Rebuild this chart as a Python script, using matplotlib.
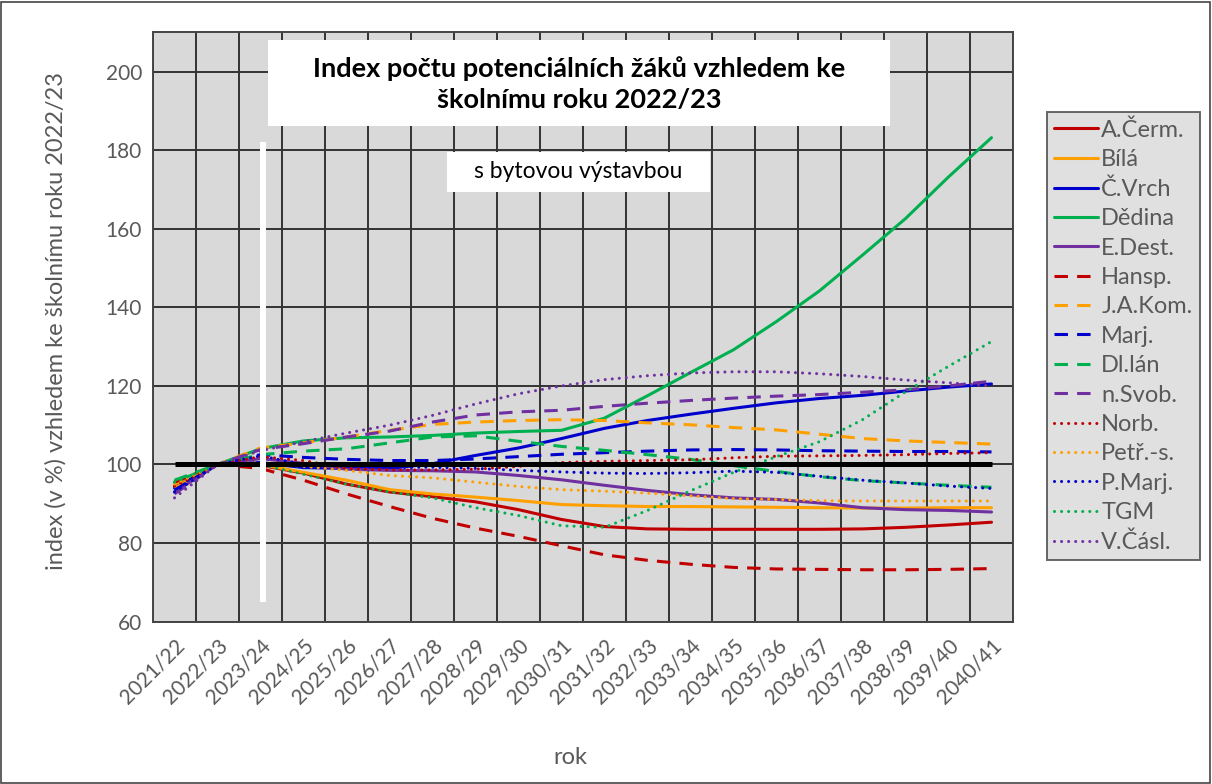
import matplotlib
matplotlib.use('Agg')
import matplotlib.pyplot as plt
from matplotlib.patches import Rectangle

plt.rcParams['font.family'] = ['Lato', 'DejaVu Sans']

years = ['2021/22', '2022/23', '2023/24', '2024/25', '2025/26', '2026/27', '2027/28',
         '2028/29', '2029/30', '2030/31', '2031/32', '2032/33', '2033/34', '2034/35',
         '2035/36', '2036/37', '2037/38', '2038/39', '2039/40', '2040/41']

A_Cerm = [94.5, 100, 99.8, 97.8, 95.0, 93.0, 91.8, 90.5, 88.5, 86.0, 84.2, 83.6, 83.5, 83.5, 83.5, 83.5, 83.6, 84.0, 84.6, 85.3]
Bila = [95.0, 100, 100.0, 98.0, 96.0, 93.6, 92.5, 91.7, 90.8, 89.8, 89.5, 89.3, 89.3, 89.2, 89.1, 89.0, 88.9, 88.9, 89.0, 89.0]
C_Vrch = [94.0, 100, 100.5, 99.2, 99.0, 99.0, 100.2, 102.3, 104.2, 106.6, 109.2, 111.2, 112.8, 114.3, 115.7, 116.8, 117.6, 118.7, 119.7, 120.5]
Dedina = [95.5, 100, 104.0, 106.0, 106.8, 107.0, 107.4, 108.0, 108.4, 108.7, 111.8, 117.5, 123.4, 129.2, 136.4, 144.2, 153.3, 162.6, 173.2, 183.2]
E_Dest = [93.0, 100, 101.5, 100.3, 98.8, 98.5, 98.4, 98.1, 97.2, 96.1, 94.7, 93.4, 92.3, 91.5, 91.1, 90.2, 89.0, 88.5, 88.3, 87.9]
Hansp = [95.5, 100, 99.0, 96.0, 92.5, 89.3, 86.3, 83.8, 81.7, 79.3, 77.0, 75.6, 74.6, 73.8, 73.4, 73.3, 73.2, 73.2, 73.3, 73.5]
J_A_Kom = [94.0, 100, 104.2, 105.5, 107.0, 108.7, 110.2, 110.8, 111.2, 111.4, 111.2, 110.6, 110.1, 109.4, 108.8, 107.7, 106.6, 106.0, 105.6, 105.2]
Marj = [93.5, 100, 102.5, 101.8, 101.3, 101.0, 101.0, 101.4, 102.0, 102.6, 103.0, 103.4, 103.7, 103.8, 103.7, 103.5, 103.4, 103.3, 103.3, 103.2]
Dl_lan = [96.0, 100, 102.5, 103.4, 104.0, 105.5, 107.0, 107.3, 105.9, 104.6, 103.6, 102.5, 101.3, 99.7, 98.2, 96.9, 95.9, 95.3, 94.7, 94.2]
n_Svob = [92.5, 100, 103.8, 105.3, 107.0, 108.5, 110.8, 112.6, 113.4, 113.8, 114.8, 115.6, 116.3, 116.9, 117.4, 117.8, 118.4, 119.0, 120.0, 121.2]
Norb = [94.5, 100, 102.0, 101.0, 99.0, 98.6, 98.6, 98.8, 99.5, 100.5, 100.8, 101.0, 101.2, 101.7, 102.1, 102.2, 102.3, 102.5, 102.8, 103.0]
Petr_s = [95.0, 100, 100.5, 99.5, 98.5, 97.2, 96.6, 95.5, 94.4, 93.6, 93.2, 92.7, 92.0, 91.3, 91.1, 90.8, 90.7, 90.7, 90.7, 90.7]
P_Marj = [93.0, 100, 102.2, 100.0, 99.5, 99.2, 99.3, 99.0, 98.5, 98.1, 97.8, 97.7, 97.9, 98.3, 98.0, 97.0, 96.0, 95.3, 94.5, 93.9]
TGM = [95.5, 100, 100.0, 97.5, 95.0, 93.0, 91.5, 89.0, 87.0, 84.4, 84.0, 88.3, 93.3, 98.0, 102.0, 105.8, 111.4, 118.5, 125.0, 131.3]
V_Casl = [91.5, 100, 103.5, 105.8, 108.0, 110.0, 112.5, 115.4, 118.0, 120.0, 121.6, 122.6, 123.3, 123.6, 123.6, 123.1, 122.4, 121.5, 120.8, 120.0]
base = [100] * 20

labels = ['A.Čerm.', 'Bílá', 'Č.Vrch', 'Dědina', 'E.Dest.', 'Hansp.', 'J.A.Kom.', 'Marj.',
          'Dl.lán', 'n.Svob.', 'Norb.', 'Petř.-s.', 'P.Marj.', 'TGM', 'V.Čásl.']
series = [A_Cerm, Bila, C_Vrch, Dedina, E_Dest, Hansp, J_A_Kom, Marj,
          Dl_lan, n_Svob, Norb, Petr_s, P_Marj, TGM, V_Casl]

RED, ORANGE, BLUE, GREEN, PURPLE = '#c00000', '#ffa000', '#0000cc', '#00b050', '#7030a0'
colors = [RED, ORANGE, BLUE, GREEN, PURPLE] * 3
styles = ['solid'] * 5 + ['dashed'] * 5 + ['dotted'] * 5

GRAY = '#595959'
fig = plt.figure(figsize=(12.12, 7.84), dpi=100)
ax = fig.add_axes([153 / 1212, 1 - 621.6 / 784, 860 / 1212, 589.2 / 784])
ax.set_facecolor('#d9d9d9')

x = list(range(len(years)))
handles = []
for vals, lab, c, st in zip(series, labels, colors, styles):
    kw = dict(color=c, lw=2.2, solid_capstyle='round')
    if st == 'dashed':
        kw.update(linestyle=(0, (4.4, 3.0)), dash_capstyle='butt')
    elif st == 'dotted':
        kw.update(linestyle=(0, (0.01, 2.3)), dash_capstyle='round')
    ln, = ax.plot(x, vals, label=lab, zorder=3, **kw)
    handles.append(ln)
ax.plot(x, base, color='black', lw=3.6, zorder=4, solid_capstyle='butt')

# white separator bar
ax.plot([2.06, 2.06], [65.0, 182.1], color='white', lw=4.3, zorder=5, solid_capstyle='butt')

ax.set_xlim(-0.5, 19.5)
ax.set_ylim(60, 210)
ax.set_yticks(range(60, 201, 20))
ax.set_xticks(x)
ax.set_xticklabels(years, rotation=45, ha='right', va='top', rotation_mode='anchor')
ax.set_xticks([i + 0.5 for i in range(-1, 20)], minor=True)
ax.tick_params(axis='both', which='both', length=0, labelsize=15, colors=GRAY)
ax.tick_params(axis='x', which='major', pad=10)
ax.tick_params(axis='y', pad=8)
ax.set_axisbelow(True)
ax.grid(False)
ax.grid(True, axis='x', which='minor', color='#333333', lw=1.4)
ax.grid(True, axis='y', which='major', color='#333333', lw=1.4)
for sp in ax.spines.values():
    sp.set_color('#444444')
    sp.set_linewidth(1.4)

ax.set_ylabel('index (v %) vzhledem ke školnímu roku 2022/23', fontsize=17, color=GRAY)
ax.yaxis.set_label_coords(-0.101, 0.51)
ax.set_xlabel('rok', fontsize=17, color=GRAY)
ax.xaxis.set_label_coords(0.485, -0.213)


def fig_rect(x0, y0, x1, y1):
    return Rectangle((x0 / 1212, 1 - y1 / 784), (x1 - x0) / 1212, (y1 - y0) / 784,
                     transform=fig.transFigure, facecolor='white', edgecolor='none',
                     zorder=6, clip_on=False)


ax.add_patch(fig_rect(268, 40, 890, 126))
ax.text(579 / 1212, 1 - 84 / 784, 'Index počtu potenciálních žáků vzhledem ke\nškolnímu roku 2022/23',
        transform=fig.transFigure, ha='center', va='center', fontsize=19.5, fontweight='bold',
        color='black', linespacing=1.38, zorder=7)
ax.add_patch(fig_rect(447, 152, 710, 192))
ax.text(578 / 1212, 1 - 172 / 784, 's bytovou výstavbou', transform=fig.transFigure,
        ha='center', va='center', fontsize=16.5, color='black', zorder=7)

leg = fig.legend(handles=handles, loc='upper left', bbox_to_anchor=(1047 / 1212, 1 - 112 / 784),
                 fontsize=17, frameon=True, fancybox=False, handlelength=1.85, handletextpad=0.15,
                 labelspacing=0.355, borderpad=0.3, borderaxespad=0)
frame = leg.get_frame()
frame.set_facecolor('#d9d9d9')
frame.set_edgecolor('#444444')
frame.set_linewidth(1.4)
for t in leg.get_texts():
    t.set_color(GRAY)

fig.patches.append(Rectangle((0.001, 0.001), 0.997, 0.997, transform=fig.transFigure,
                             facecolor='none', edgecolor='#444444', lw=1.2))

fig.savefig('out.png', dpi=100)
